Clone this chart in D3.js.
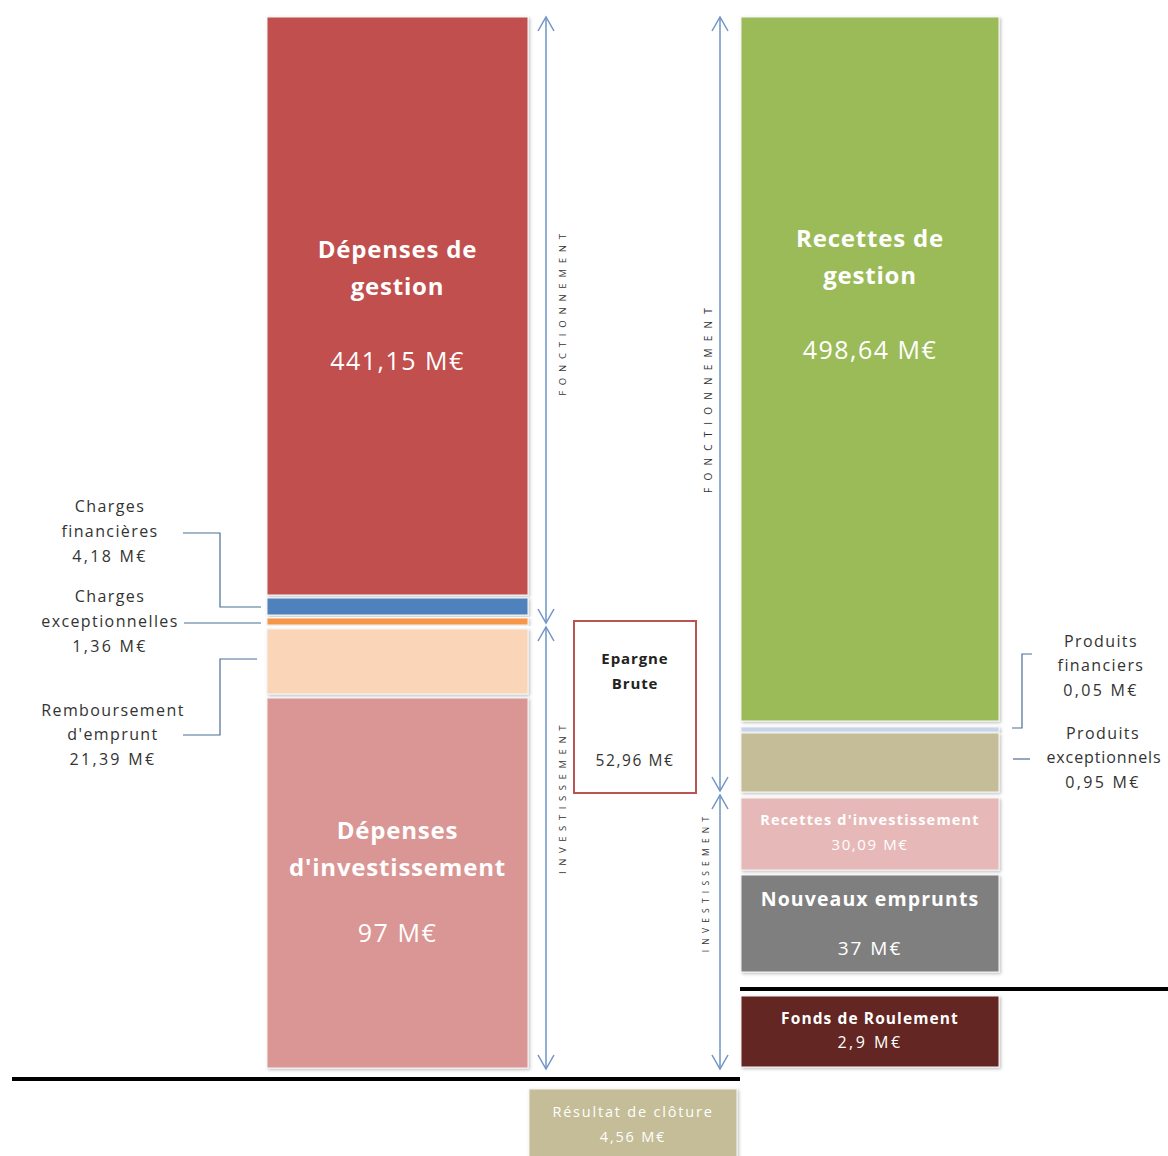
<!DOCTYPE html>
<html>
<head>
<meta charset="utf-8">
<script src="https://cdn.jsdelivr.net/npm/d3@7/dist/d3.min.js"></script>
<style>
  html, body { margin: 0; padding: 0; background: #fff; }
  svg { display: block; font-family: "Open Sans", Lato, "DejaVu Sans", sans-serif; }
</style>
</head>
<body>
<svg id="chart" width="1168" height="1156"></svg>
<script>
// ---------------- DATA ----------------
const leftNames  = ["Dépenses de gestion", "Charges financières", "Charges exceptionnelles", "Remboursement d'emprunt", "Dépenses d'investissement"];
const leftValues = ["441,15 M€", "4,18 M€", "1,36 M€", "21,39 M€", "97 M€"];
const rightNames  = ["Recettes de gestion", "Produits financiers", "Produits exceptionnels", "Recettes d'investissement", "Nouveaux emprunts"];
const rightValues = ["498,64 M€", "0,05 M€", "0,95 M€", "30,09 M€", "37 M€"];
const extraNames  = ["Fonds de Roulement", "Résultat de clôture", "Epargne Brute"];
const extraValues = ["2,9 M€", "4,56 M€", "52,96 M€"];
const sectionLabels = ["FONCTIONNEMENT", "INVESTISSEMENT"];

// ---------------- LAYOUT (infographic, not proportional) ----------------
const leftSpans  = [[17, 595], [598, 615], [618, 625], [629, 694], [698, 1068]];
const rightSpans = [[17, 721], [727, 732], [733, 792], [798, 870], [875, 972]];
const fondsSpan = [996, 1067];
const resultSpan = [1089, 1160];
const epargneSpan = [621, 793];
const leftColors  = ["#C0504D", "#4F81BD", "#F79646", "#FBD5B7", "#D99694"];
const rightColors = ["#9BBB59", "#C6D5EA", "#C4BD97", "#E6B9B8", "#7F7F7F"];

const svg = d3.select("#chart");
const W = 1168, H = 1156;
const y = d3.scaleLinear().domain([0, 1156]).range([0, H]);
const x = d3.scaleLinear().domain([0, 1168]).range([0, W]);

const defs = svg.append("defs");
const f = defs.append("filter").attr("id", "sh").attr("x", "-5%").attr("y", "-5%").attr("width", "115%").attr("height", "115%");
f.append("feDropShadow").attr("dx", 1.5).attr("dy", 1.5).attr("stdDeviation", 1.5).attr("flood-color", "#000").attr("flood-opacity", 0.25);

function blocks(spans, colors, x0, x1) {
  svg.append("g").selectAll("rect").data(spans).join("rect")
    .attr("x", x(x0)).attr("width", x(x1) - x(x0))
    .attr("y", d => y(d[0])).attr("height", d => y(d[1]) - y(d[0]))
    .attr("fill", (d, i) => colors[i])
    .attr("stroke", "#f4f4f4").attr("stroke-width", 1)
    .attr("filter", "url(#sh)");
}
const LX0 = 267, LX1 = 528, RX0 = 741, RX1 = 999;
blocks(leftSpans, leftColors, LX0, LX1);
blocks(rightSpans, rightColors, RX0, RX1);
blocks([fondsSpan], ["#632523"], RX0, RX1);
blocks([resultSpan], ["#C4BD97"], 529, 737);

// black separator lines
svg.append("line").attr("x1", x(12)).attr("x2", x(740)).attr("y1", y(1079)).attr("y2", y(1079))
  .attr("stroke", "#000").attr("stroke-width", 4);
svg.append("line").attr("x1", x(740)).attr("x2", x(1168)).attr("y1", y(989)).attr("y2", y(989))
  .attr("stroke", "#000").attr("stroke-width", 4);

// Epargne box
svg.append("rect").attr("x", x(574)).attr("y", y(epargneSpan[0]))
  .attr("width", x(696) - x(574)).attr("height", y(epargneSpan[1]) - y(epargneSpan[0]))
  .attr("fill", "#fff").attr("stroke", "#B85552").attr("stroke-width", 2);

// text helper
function txt(t, cx, cy, size, weight, color, ls) {
  return svg.append("text").attr("x", x(cx)).attr("y", y(cy)).attr("text-anchor", "middle")
    .attr("dominant-baseline", "middle").attr("font-size", size).attr("font-weight", weight)
    .attr("letter-spacing", ls || 0)
    .attr("fill", color).text(t);
}
const lc = (LX0 + LX1) / 2, rc = (RX0 + RX1) / 2;
// left block labels
txt("Dépenses de", lc, 252, 24, "bold", "#fff", 0.8);
txt("gestion", lc, 289, 24, "bold", "#fff", 0.8);
txt(leftValues[0], lc, 363, 25, "normal", "#fff", 1.5);
txt("Dépenses", lc, 833, 24, "bold", "#fff", 0.8);
txt("d'investissement", lc, 870, 24, "bold", "#fff", 0.8);
txt(leftValues[4], lc, 935, 25, "normal", "#fff", 1.5);
// right block labels
txt("Recettes de", rc, 241, 24, "bold", "#fff", 0.8);
txt("gestion", rc, 278, 24, "bold", "#fff", 0.8);
txt(rightValues[0], rc, 352, 25, "normal", "#fff", 1.5);
txt(rightNames[3], rc, 821, 14.5, "bold", "#fff", 1.2);
txt(rightValues[3], rc, 846, 15, "normal", "#fff", 1.6);
txt(rightNames[4], rc, 901, 19.5, "bold", "#fff", 1.1);
txt(rightValues[4], rc, 950, 19, "normal", "#fff", 2);
txt(extraNames[0], rc, 1020, 15.5, "bold", "#fff", 1.1);
txt(extraValues[0], rc, 1044, 16, "normal", "#fff", 2.5);
txt(extraNames[1], 633, 1113, 14.5, "normal", "#fff", 1.8);
txt(extraValues[1], 633, 1138, 14.5, "normal", "#fff", 1.8);
// Epargne
txt("Epargne", 635, 660, 15, "bold", "#222", 0.9);
txt("Brute", 635, 685, 15, "bold", "#222", 0.9);
txt(extraValues[2], 635, 762, 15.5, "normal", "#333", 1.6);

// side labels
const sideColor = "#333";
const fs = 16, sls = 1.4, vls = 2.3;
txt("Charges", 110, 508, fs, "normal", sideColor, sls);
txt("financières", 110, 533, fs, "normal", sideColor, sls);
txt(leftValues[1], 110, 558, fs, "normal", sideColor, vls);
txt("Charges", 110, 598, fs, "normal", sideColor, sls);
txt("exceptionnelles", 110, 623, fs, "normal", sideColor, sls);
txt(leftValues[2], 110, 648, fs, "normal", sideColor, vls);
txt("Remboursement", 113, 712, fs, "normal", sideColor, sls);
txt("d'emprunt", 113, 736, fs, "normal", sideColor, sls);
txt(leftValues[3], 113, 761, fs, "normal", sideColor, vls);
txt("Produits", 1101, 643, fs, "normal", sideColor, sls);
txt("financiers", 1101, 667, fs, "normal", sideColor, sls);
txt(rightValues[1], 1101, 692, fs, "normal", sideColor, vls);
txt("Produits", 1103, 735, fs, "normal", sideColor, sls);
txt("exceptionnels", 1104, 759, fs, "normal", sideColor, 0.9);
txt(rightValues[2], 1103, 784, fs, "normal", sideColor, vls);

// connector lines
const conn = "#4A6E96";
const line = d3.line().x(d => x(d[0])).y(d => y(d[1]));
const connectors = [
  [[183, 533], [220, 533], [220, 607], [261, 607]],
  [[184, 623], [261, 623]],
  [[183, 735], [220, 735], [220, 659], [257, 659]],
  [[1032, 654], [1022, 654], [1022, 728], [1012, 728]],
  [[1013, 759], [1030, 759]]
];
svg.append("g").selectAll("path").data(connectors).join("path")
  .attr("d", line).attr("fill", "none").attr("stroke", conn).attr("stroke-width", 1.2);

// double-headed arrows
const arrowColor = "#6F93C6";
function arrow(ax, y0, y1) {
  const g = svg.append("g").attr("stroke", arrowColor).attr("fill", "none").attr("stroke-width", 1.5);
  g.append("line").attr("x1", x(ax)).attr("x2", x(ax)).attr("y1", y(y0)).attr("y2", y(y1));
  g.append("path").attr("d", line([[ax - 8, y0 + 14], [ax, y0], [ax + 8, y0 + 14]]));
  g.append("path").attr("d", line([[ax - 8, y1 - 14], [ax, y1], [ax + 8, y1 - 14]]));
}
arrow(546, 17, 623);
arrow(546, 627, 1069);
arrow(720, 17, 791);
arrow(720, 795, 1069);

// vertical section labels
function vtext(t, cx, cy, size, spacing) {
  svg.append("text").attr("transform", `translate(${x(cx)},${y(cy)}) rotate(-90)`)
    .attr("text-anchor", "middle").attr("dominant-baseline", "middle")
    .attr("font-size", size).attr("letter-spacing", spacing).attr("fill", "#333").text(t);
}
vtext(sectionLabels[0], 563, 312, 9.5, 5.8);
vtext(sectionLabels[1], 563, 797, 9.5, 5.6);
vtext(sectionLabels[0], 709, 397, 10, 7.2);
vtext(sectionLabels[1], 707, 882, 8.5, 5.2);
</script>
</body>
</html>
